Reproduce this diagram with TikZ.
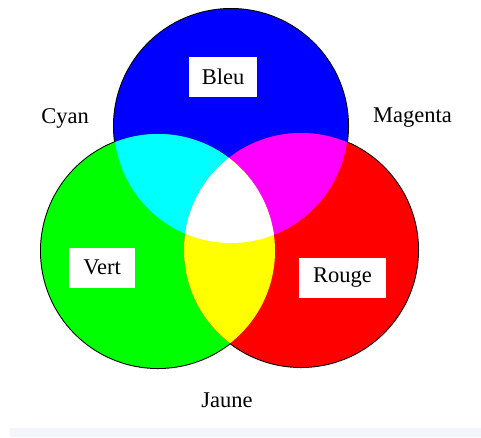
\documentclass[tikz,border=0pt]{standalone}
\usepackage{fontspec}
\setmainfont{Liberation Serif}
\definecolor{band}{RGB}{244,245,250}
\definecolor{pblue}{RGB}{0,0,255}
\definecolor{pgreen}{RGB}{0,255,0}
\definecolor{pred}{RGB}{255,0,0}
\definecolor{pcyan}{RGB}{0,255,255}
\definecolor{pmagenta}{RGB}{255,0,255}
\definecolor{pyellow}{RGB}{255,255,0}
\begin{document}
\begin{tikzpicture}[x=1pt,y=-1pt,
  lbl/.style={font=\fontsize{22.5}{24}\selectfont, inner sep=0pt},
  boxlbl/.style={lbl, fill=white, minimum height=40pt},
  rim/.style={draw=black, line width=2pt}]
\useasboundingbox (0,0) rectangle (481,437);
\fill[white] (0,0) rectangle (481,437);
\fill[band] (10,428) rectangle (481,437);
\coordinate (cb) at (231,126);
\coordinate (cg) at (158,251);
\coordinate (cr) at (301,250);
\def\R{117}
% outlines
\draw[rim] (cb) circle[radius=\R];
\draw[rim] (cg) circle[radius=\R];
\draw[rim] (cr) circle[radius=\R];
% fills
\fill[pblue] (cb) circle[radius=\R];
\fill[pgreen] (cg) circle[radius=\R];
\fill[pred] (cr) circle[radius=\R];
\begin{scope}
  \clip (cb) circle[radius=\R];
  \fill[pcyan] (cg) circle[radius=\R];
  \fill[pmagenta] (cr) circle[radius=\R];
\end{scope}
\begin{scope}
  \clip (cg) circle[radius=\R];
  \fill[pyellow] (cr) circle[radius=\R];
  \clip (cr) circle[radius=\R];
  \fill[white] (cb) circle[radius=\R];
\end{scope}
% labels
\node[boxlbl, minimum width=68pt] (bleu) at (223,77) {Bleu};
\node[boxlbl, minimum width=66pt] (vert) at (102,267.5) {Vert};
\node[boxlbl, minimum width=87pt] (rouge) at (342.5,278) {Rouge};
\node[lbl] (cyan) at (65,118) {Cyan};
\node[lbl] (magenta) at (412.5,118) {Magenta};
\node[lbl] (jaune) at (227,400) {Jaune};
\end{tikzpicture}
\end{document}
